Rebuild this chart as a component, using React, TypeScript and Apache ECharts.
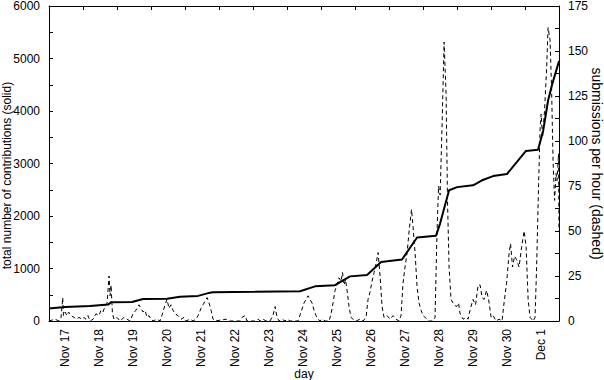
import React, { useEffect, useRef } from "react";
import * as echarts from "echarts";

// x values are hours relative to Nov 17 00:00
const dayLabels = ["Nov 17", "Nov 18", "Nov 19", "Nov 20", "Nov 21", "Nov 22", "Nov 23", "Nov 24", "Nov 25", "Nov 26", "Nov 27", "Nov 28", "Nov 29", "Nov 30", "Dec 1"];
const xStart = -11.3;
const xEnd = 348.7;

const totalHours = [-11.3, 0, 17.7, 30.4, 32.5, 47.3, 55.1, 72, 81.2, 93.9, 102.4, 104.5, 134.1, 165.9, 176.5, 190.6, 201.2, 213.2, 223.1, 237.9, 248.5, 261.9, 264.8, 271.1, 276.8, 288, 294.4, 302.2, 312, 325.4, 333.9, 337.5, 341, 343.8, 348.7];
const totalValues = [240, 265, 285, 312, 356, 362, 418, 422, 463, 478, 540, 548, 555, 568, 660, 682, 850, 875, 1125, 1172, 1590, 1625, 1860, 2490, 2550, 2585, 2680, 2760, 2800, 3240, 3260, 3620, 4200, 4500, 4950];

const rateHours = [-11.3, -7.1, -4.2, -2.8, -1.6, -1.1, 0, 1.4, 2.5, 4.2, 6.4, 7.8, 9.9, 12.0, 13.4, 14.8, 16.2, 17.7, 19.8, 21.9, 24.0, 25.4, 26.8, 28.2, 29.7, 31.1, 31.8, 32.5, 33.5, 34.6, 36.7, 38.8, 41.7, 43.8, 45.9, 48.0, 50.1, 52.2, 53.7, 55.1, 56.5, 57.9, 59.3, 60.7, 62.1, 64.9, 67.1, 69.2, 70.6, 72.0, 73.4, 74.8, 76.2, 77.7, 79.8, 81.9, 84.0, 85.4, 88.3, 90.4, 92.5, 93.9, 96.0, 97.4, 98.8, 100.3, 101.7, 103.1, 104.5, 105.9, 113.7, 115.1, 123.6, 125.0, 127.1, 128.5, 134.1, 136.3, 137.7, 139.8, 141.9, 144.7, 146.8, 148.3, 149.7, 151.1, 153.2, 155.3, 156.7, 158.9, 164.5, 166.6, 168.7, 170.1, 171.6, 173.0, 174.4, 175.8, 177.2, 178.6, 180.0, 181.4, 183.6, 186.4, 187.8, 189.2, 190.6, 192.0, 193.4, 194.9, 195.9, 197.0, 198.0, 199.1, 200.5, 201.9, 203.3, 205.4, 208.3, 210.4, 212.5, 213.9, 215.3, 216.7, 218.2, 219.6, 221.0, 222.4, 223.8, 225.2, 227.3, 229.5, 231.6, 233.7, 235.8, 237.2, 238.6, 240.0, 241.5, 242.9, 244.6, 245.7, 247.1, 248.5, 249.9, 251.3, 252.7, 254.2, 255.6, 257.0, 259.8, 261.2, 262.6, 263.7, 264.8, 266.2, 267.6, 269.0, 270.0, 271.1, 272.5, 274.6, 276.4, 277.8, 278.9, 281.0, 283.5, 284.5, 285.9, 288.0, 289.8, 291.6, 293.0, 294.4, 295.8, 297.6, 299.0, 300.8, 302.2, 304.3, 306.4, 308.5, 309.9, 311.7, 313.5, 314.5, 315.9, 317.3, 318.8, 320.5, 322.3, 324.1, 325.5, 326.9, 328.3, 330.4, 331.8, 332.9, 334.3, 335.4, 336.1, 337.1, 338.5, 340.0, 341.0, 342.4, 343.5, 344.5, 345.6, 346.6, 347.3, 348.4, 348.7];
const rateValues = [0, 1, 0, 2, 13, 3, 5, 3, 5, 3, 2, 1, 2, 1, 2, 1, 3, 0, 1, 4, 3, 6, 5, 8, 10, 25, 14, 20, 4, 1, 2, 0, 2, 1, 0, 4, 6, 9, 7, 5, 6, 2, 3, 1, 0, 1, 0, 5, 9, 12, 7, 9, 6, 4, 3, 1, 2, 0, 1, 0, 1, 3, 7, 9, 11, 13, 10, 6, 1, 0, 1, 0, 0, 2, 3, 0, 0, 1, 0, 1, 0, 0, 3, 8, 2, 0, 1, 0, 1, 0, 0, 5, 10, 12, 14, 12, 10, 6, 3, 1, 0, 1, 0, 0, 4, 10, 17, 20, 24, 22, 27, 20, 23, 17, 8, 2, 1, 0, 1, 0, 2, 12, 16, 22, 27, 32, 38, 25, 8, 2, 3, 1, 3, 1, 0, 3, 21, 30, 38, 50, 62, 52, 38, 19, 10, 6, 3, 2, 1, 0, 0, 2, 50, 75, 70, 110, 155, 126, 67, 30, 12, 9, 8, 10, 4, 1, 2, 1, 6, 12, 9, 20, 20, 13, 12, 17, 12, 2, 3, 0, 1, 0, 10, 21, 38, 43, 30, 36, 34, 30, 41, 50, 41, 12, 2, 0, 2, 30, 76, 108, 115, 102, 117, 141, 163, 156, 128, 89, 67, 82, 78, 93, 50];

const FONT = "Liberation Sans";

export default function App() {
  const ref = useRef<HTMLDivElement>(null);
  useEffect(() => {
    if (!ref.current) return;
    const chart = echarts.init(ref.current, undefined, { renderer: "svg" });
    const labelHours = dayLabels.map((_, i) => i * 24);
    const topTicks = dayLabels.concat([""]).map((_, i) => xStart + i * 24);
    const axisLineStyle = { color: "#000", width: 1 };
    chart.setOption({
      animation: false,
      backgroundColor: "#fff",
      grid: { left: 49, right: 45, top: 6, bottom: 59, containLabel: false, outerBoundsMode: "none" },
      xAxis: [
        {
          type: "value",
          position: "bottom",
          min: xStart,
          max: xEnd,
          name: "day",
          nameLocation: "middle",
          nameGap: 47,
          nameMoveOverlap: false,
          nameTextStyle: { fontFamily: FONT, fontSize: 12, color: "#000" },
          axisLine: { show: true, onZero: false, lineStyle: axisLineStyle },
          axisTick: { show: false },
          splitLine: { show: false },
          axisLabel: {
            customValues: labelHours,
            rotate: 90,
            margin: 8,
            fontFamily: FONT,
            fontSize: 12,
            color: "#000",
            formatter: (v: number) => {
              const i = Math.round(v / 24);
              return dayLabels[i] ?? "";
            },
          },
        },
        {
          type: "value",
          position: "top",
          min: xStart,
          max: xEnd,
          axisLine: { show: true, onZero: false, lineStyle: axisLineStyle },
          axisTick: { show: true, inside: true, length: 4, customValues: topTicks, lineStyle: axisLineStyle },
          axisLabel: { show: false },
          splitLine: { show: false },
        },
      ],
      yAxis: [
        {
          type: "value",
          position: "left",
          min: 0,
          max: 6000,
          interval: 1000,
          name: "total number of contributions (solid)",
          nameLocation: "middle",
          nameGap: 36,
          nameMoveOverlap: false,
          nameTextStyle: { fontFamily: FONT, fontSize: 12, color: "#000", padding: [0, 24, 0, 0] },
          axisLine: { show: true, onZero: false, lineStyle: axisLineStyle },
          axisTick: { show: true, inside: true, length: 4, lineStyle: axisLineStyle },
          minorTick: { show: true, splitNumber: 2, length: 4, lineStyle: axisLineStyle },
          splitLine: { show: false },
          axisLabel: { fontFamily: FONT, fontSize: 12, color: "#000", margin: 9, formatter: (v: number) => String(v) },
        },
        {
          type: "value",
          position: "right",
          min: 0,
          max: 175,
          interval: 25,
          name: "submissions per hour (dashed)",
          nameLocation: "middle",
          nameGap: 31,
          nameRotate: -90,
          nameMoveOverlap: false,
          nameTextStyle: { fontFamily: FONT, fontSize: 14, color: "#000" },
          axisLine: { show: true, onZero: false, lineStyle: axisLineStyle },
          axisTick: { show: true, inside: true, length: 4, lineStyle: axisLineStyle },
          minorTick: { show: true, splitNumber: 2, length: 4, lineStyle: axisLineStyle },
          splitLine: { show: false },
          axisLabel: { fontFamily: FONT, fontSize: 12, color: "#000", margin: 9, formatter: (v: number) => String(v) },
        },
      ],
      series: [
        {
          name: "submissions per hour",
          type: "line",
          xAxisIndex: 0,
          yAxisIndex: 1,
          showSymbol: false,
          symbol: "none",
          data: rateHours.map((h, i) => [h, rateValues[i]]),
          lineStyle: { color: "#000", width: 1, type: [4, 3] },
          z: 2,
        },
        {
          name: "total contributions",
          type: "line",
          xAxisIndex: 0,
          yAxisIndex: 0,
          showSymbol: false,
          symbol: "none",
          data: totalHours.map((h, i) => [h, totalValues[i]]),
          lineStyle: { color: "#000", width: 2 },
          z: 3,
        },
      ],
    });
    return () => chart.dispose();
  }, []);
  return <div ref={ref} style={{ position: "fixed", left: 0, top: 0, width: 604, height: 380 }} />;
}
